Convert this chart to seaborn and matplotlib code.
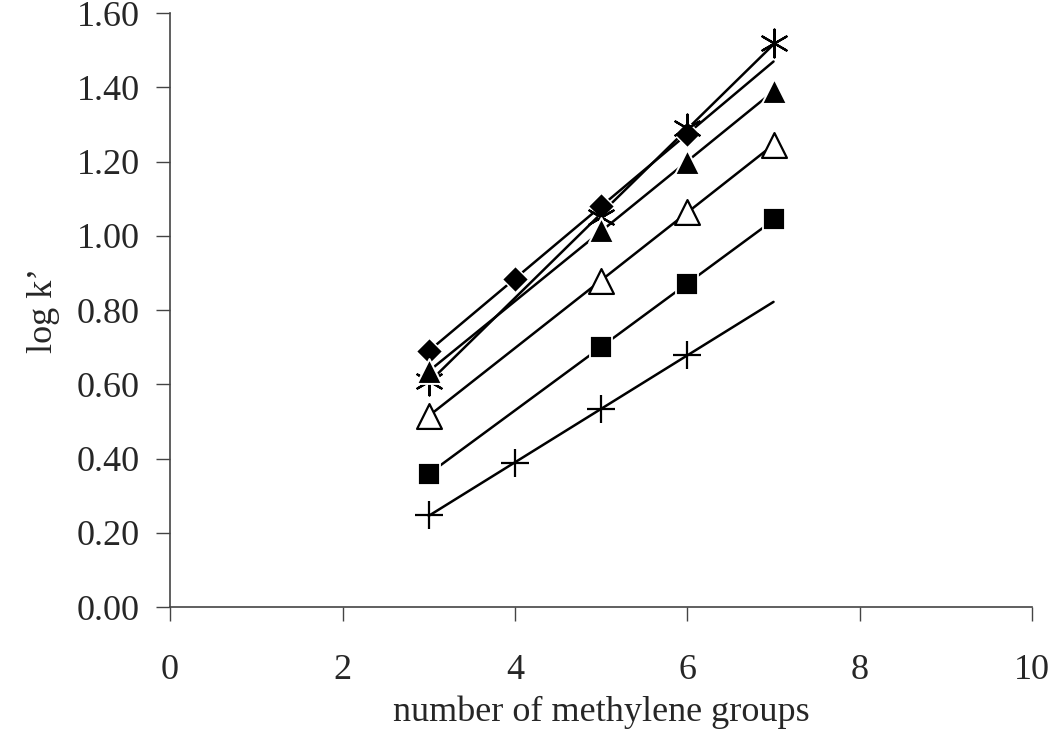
import numpy as np
import seaborn as sns
import matplotlib.pyplot as plt

# log k' vs number of methylene groups, one series per marker
x_diamond = [3, 4, 5, 6]
y_diamond = [0.69, 0.885, 1.08, 1.275]

x_star = [3, 5, 6, 7]
y_star = [0.61, 1.05, 1.29, 1.52]

x_tri = [3, 5, 6, 7]
y_tri = [0.635, 1.015, 1.20, 1.39]

x_otri = [3, 5, 6, 7]
y_otri = [0.515, 0.88, 1.065, 1.245]

x_square = [3, 5, 6, 7]
y_square = [0.36, 0.70, 0.87, 1.045]

x_plus = [3, 4, 5, 6]
y_plus = [0.248, 0.388, 0.533, 0.68]

sns.set_style("ticks")
plt.rcParams['font.family'] = ['Liberation Serif', 'DejaVu Serif']

fig = plt.figure(figsize=(10.5, 7.36), dpi=100)
ax = fig.add_axes([0.162, 0.175, 0.821, 0.807])

series = [
    (x_diamond, y_diamond, dict(marker="D", color="black", s=180)),
    (x_star, y_star, dict(marker=(6, 2, 0), color="black", s=400, linewidth=1.6)),
    (x_tri, y_tri, dict(marker="^", color="black", s=320)),
    (x_otri, y_otri, dict(marker="^", facecolor="white", edgecolor="black", s=320, linewidth=1.6)),
    (x_square, y_square, dict(marker="s", color="black", s=270)),
    (x_plus, y_plus, dict(marker="+", color="black", s=400, linewidth=1.6)),
]

# linear trend lines, drawn over the 3..7 range like the original
xfit = np.array([3, 7])
for xs, ys, kw in series:
    slope, icpt = np.polyfit(xs, ys, 1)
    ax.plot(xfit, slope * xfit + icpt, color="black", linewidth=1.8, zorder=1)

for xs, ys, kw in series:
    sns.scatterplot(x=xs, y=ys, ax=ax, zorder=3, **kw)

ax.set_xlim(0, 10)
ax.set_ylim(0, 1.6)
ax.set_xticks(range(0, 11, 2))
ax.set_yticks(np.arange(0, 1.61, 0.2))
ax.set_yticklabels([f"{v:.2f}" for v in np.arange(0, 1.61, 0.2)])
ax.tick_params(labelsize=26, length=10, width=1, color="#444444", pad=12)
ax.tick_params(axis="x", pad=24)
for sp in ["left", "bottom"]:
    ax.spines[sp].set_color("#444444")
    ax.spines[sp].set_linewidth(1.2)
sns.despine(ax=ax)
ax.set_xlabel("number of methylene groups", fontsize=26, labelpad=6)
ax.set_ylabel("log k\u2019", fontsize=26, labelpad=12)

fig.savefig("out.png", dpi=100)
